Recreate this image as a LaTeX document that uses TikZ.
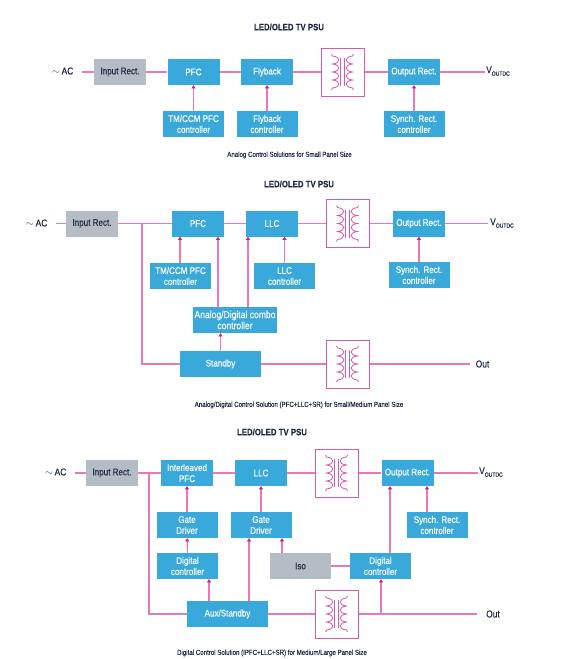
\documentclass[tikz,border=0pt]{standalone}
\usepackage{fontspec}
\setmainfont[FakeStretch=0.84,FakeBold=0.25]{Liberation Sans}
\usetikzlibrary{arrows.meta, positioning}
\definecolor{boxblue}{HTML}{39A9DC}
\definecolor{boxgrey}{HTML}{B4BDC5}
\definecolor{wirepink}{HTML}{E878BA}
\definecolor{coilpink}{HTML}{D65CA8}
\definecolor{tippink}{HTML}{CC1E8C}
\definecolor{labelnavy}{HTML}{1F2A44}

\newcommand{\voutdc}{V\raisebox{-2.5pt}{\fontsize{6}{6}\selectfont OUTDC}}

\begin{document}
\begin{tikzpicture}[
x=1pt, y=-1pt,
node distance=52pt,
box/.style={rectangle, fill=boxblue, text=white, minimum width=52pt, minimum height=26pt, inner sep=0pt, align=center, font=\fontsize{9.6}{11}\selectfont},
wide/.style={box, minimum width=61pt},
wider/.style={box, minimum width=81pt},
greybox/.style={box, fill=boxgrey, text=labelnavy},
xfmr/.style={rectangle, draw=coilpink, line width=1pt, fill=white, minimum width=43pt, minimum height=48pt, inner sep=0pt},
label/.style={text=labelnavy, inner sep=0pt, font=\fontsize{10}{11}\selectfont},
title/.style={label, font=\fontsize{9.3}{11}\selectfont\bfseries},
caption/.style={label, font=\fontsize{7.3}{8}\selectfont},
wire/.style={draw=wirepink, line width=1.1pt},
ctl/.style={wire, -{Triangle[length=3.2pt, width=4pt, color=tippink]}},
coils/.pic={
  \foreach \s in {-1,1} {
    \draw[coilpink, line width=0.8pt] (\s*11,-18) -- (\s*10,-16)
      .. controls (\s*1.5,-15) and (\s*1.5,-9) .. (\s*10,-8)
      .. controls (\s*1.5,-7) and (\s*1.5,-1) .. (\s*10,0)
      .. controls (\s*1.5,1) and (\s*1.5,7) .. (\s*10,8)
      .. controls (\s*1.5,9) and (\s*1.5,15) .. (\s*10,16) -- (\s*11,18);
    \draw[coilpink, line width=0.7pt] (\s*1.8,-14) -- (\s*1.8,14);
  }
}
]
\useasboundingbox (0,0) rectangle (565,659);

\node[title] (titlea) at (289,27) {LED/OLED TV PSU};
\node[label, anchor=west] (aca) at (52,71) {$\sim$\,AC};
\coordinate (ina) at (82,72);
\node[greybox] (recta) at (120,72) {Input Rect.};
\node[box] (pfca) at (193.5,72) {PFC};
\node[box] (flya) at (267,72) {Flyback};
\node[xfmr] (xfa) at (342.5,72) {};
\pic at (xfa.center) {coils};
\node[box] (outa) at (414,72) {Output Rect.};
\coordinate (enda) at (485,72);
\node[label, anchor=west] (va) at (486,71) {\voutdc};
\node[wide, below of=pfca] (tma) {TM/CCM PFC\\controller};
\node[wide, below of=flya] (flyca) {Flyback\\controller};
\node[wide, below of=outa] (syna) {Synch. Rect.\\controller};
\node[caption] (capa) at (289.5,155) {Analog Control Solutions for Small Panel Size};

\draw[wire] (ina) -- (recta) (recta) -- (pfca) (pfca) -- (flya) (flya) -- (xfa) (xfa) -- (outa) (outa) -- (enda);
\draw[ctl] (tma) -- (pfca);
\draw[ctl] (flyca) -- (flya);
\draw[ctl] (syna) -- (outa);

\node[title] (titleb) at (299,184) {LED/OLED TV PSU};
\node[label, anchor=west] (acb) at (26,223) {$\sim$\,AC};
\coordinate (inb) at (56,223.5);
\node[greybox] (rectb) at (92,223.5) {Input Rect.};
\node[box] (pfcb) at (198,223.5) {PFC};
\node[box] (llcb) at (272,223.5) {LLC};
\node[xfmr] (xfb) at (347.5,223.5) {};
\pic at (xfb.center) {coils};
\node[box] (outb) at (419,223.5) {Output Rect.};
\coordinate (endb) at (488,223.5);
\node[label, anchor=west] (vb) at (490,223) {\voutdc};
\node[wide] (tmb) at (180.5,276) {TM/CCM PFC\\controller};
\node[wide] (llccb) at (284.5,276) {LLC\\controller};
\node[wide] (synb) at (419,275) {Synch. Rect.\\controller};
\node[box, minimum width=84pt, font=\fontsize{10.2}{11}\selectfont] (combob) at (235,320) {Analog/Digital combo\\controller};
\node[wider] (stbyb) at (220.5,364) {Standby};
\node[xfmr] (xfc) at (347.5,364) {};
\pic at (xfc.center) {coils};
\coordinate (outendb) at (470,364);
\node[label] (outlb) at (482.5,364) {Out};
\coordinate (tapb) at (142,223.5);
\node[caption] (capb) at (299,405) {Analog/Digital Control Solution (PFC+LLC+SR) for Small/Medium Panel Size};

\draw[wire] (inb) -- (rectb) (rectb) -- (pfcb) (pfcb) -- (llcb) (llcb) -- (xfb) (xfb) -- (outb) (outb) -- (endb);
\draw[wire] (tapb) |- (stbyb);
\draw[wire] (stbyb) -- (xfc) (xfc) -- (outendb);
\draw[ctl] ([xshift=-0.5pt]tmb.north) -- ([xshift=-18pt]pfcb.south);
\draw[ctl] ([xshift=-17pt]combob.north) -- ([xshift=20pt]pfcb.south);
\draw[ctl] ([xshift=13pt]combob.north) -- ([xshift=-24pt]llcb.south);
\draw[ctl] (llccb) -- ([xshift=12.5pt]llcb.south);
\draw[ctl] (synb) -- (outb);
\draw[ctl] (stbyb.north) -- ([xshift=-14.5pt]combob.south);

\node[title] (titlec) at (272,432) {LED/OLED TV PSU};
\node[label, anchor=west] (acc) at (45,472) {$\sim$\,AC};
\coordinate (inc) at (75,473);
\node[greybox] (rectc) at (112,473) {Input Rect.};
\node[box] (pfcc) at (187,473) {Interleaved\\PFC};
\node[box] (llcc) at (261,473) {LLC};
\node[xfmr] (xfd) at (336.5,473) {};
\pic at (xfd.center) {coils};
\node[box] (outc) at (407.5,473) {Output Rect.};
\coordinate (endc) at (478,473);
\node[label, anchor=west] (vc) at (479,472) {\voutdc};
\node[wide, below of=pfcc] (gatea) {Gate\\Driver};
\node[wide, below of=llcc] (gateb) {Gate\\Driver};
\node[wide] (sync) at (437,525) {Synch. Rect.\\controller};
\node[wide] (diga) at (187.5,566) {Digital\\controller};
\node[wide, fill=boxgrey, text=labelnavy] (iso) at (300.5,566) {Iso};
\node[wide] (digb) at (380.5,566) {Digital\\controller};
\node[wider] (aux) at (227.5,614) {Aux/Standby};
\node[xfmr] (xfe) at (336.5,614) {};
\pic at (xfe.center) {coils};
\coordinate (outendc) at (477,614);
\node[label] (outlc) at (493,614) {Out};
\coordinate (tapc) at (149,473);
\coordinate (tapd) at (381,614);
\node[caption] (capc) at (272,653) {Digital Control Solution (IPFC+LLC+SR) for Medium/Large Panel Size};

\draw[wire] (inc) -- (rectc) (rectc) -- (pfcc) (pfcc) -- (llcc) (llcc) -- (xfd) (xfd) -- (outc) (outc) -- (endc);
\draw[wire] (tapc) |- (aux);
\draw[wire] (aux) -- (xfe) (xfe) -- (outendc);
\draw[wire] (iso) -- (digb);
\draw[ctl] (gatea) -- (pfcc);
\draw[ctl] (gateb) -- (llcc);
\draw[ctl] (diga) -- (gatea);
\draw[ctl] ([xshift=-18.5pt]aux.north) -- ([xshift=21.5pt]diga.south);
\draw[ctl] ([xshift=21.5pt]aux.north) -- ([xshift=-12pt]gateb.south);
\draw[ctl] ([xshift=-18.5pt]iso.north) -- ([xshift=21pt]gateb.south);
\draw[ctl] ([xshift=9.5pt]digb.north) -- ([xshift=-17.5pt]outc.south);
\draw[ctl] ([xshift=-10pt]sync.north) -- ([xshift=19.5pt]outc.south);
\draw[ctl] (tapd) -- (tapd |- digb.south);

\end{tikzpicture}
\end{document}
